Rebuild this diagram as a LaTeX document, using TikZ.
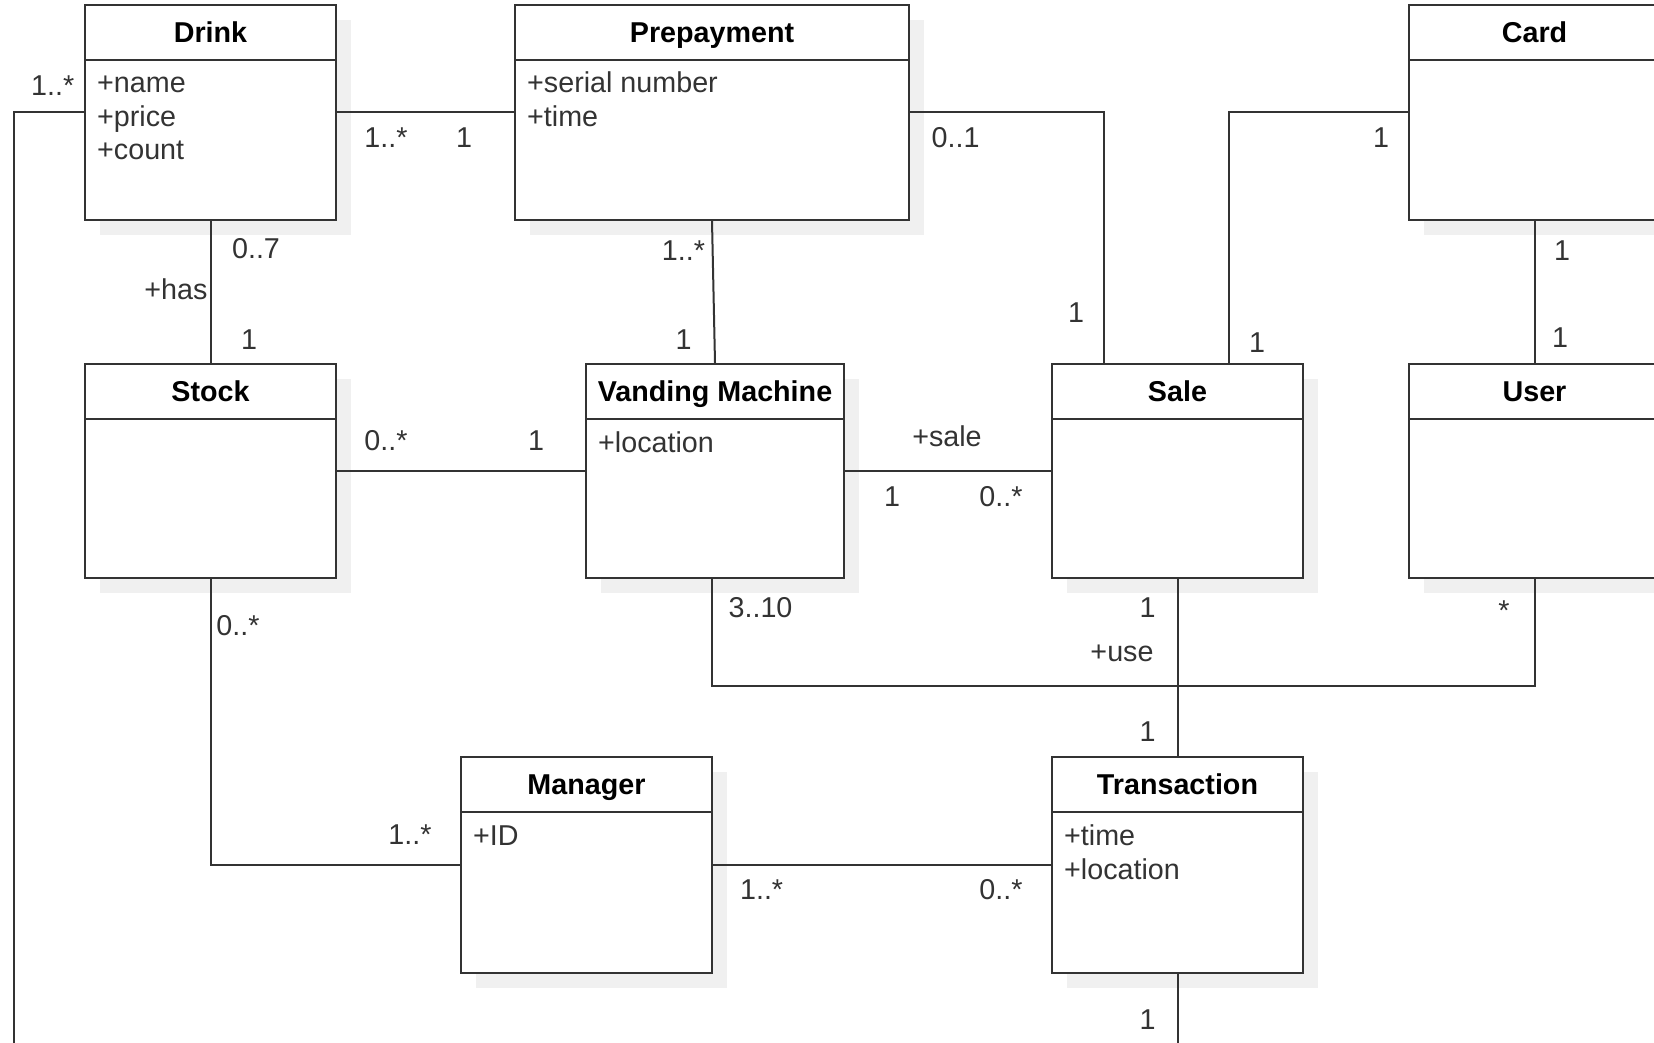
\documentclass[tikz,border=0pt]{standalone}
\usepackage{fontspec}
\setmainfont{Liberation Sans}
\usetikzlibrary{calc}
\definecolor{ink}{HTML}{333333}
\definecolor{shadowgray}{HTML}{F0F0F0}
\tikzset{
  umlline/.style={draw=ink, line width=2pt},
  classbox/.style={rectangle, draw=ink, line width=2pt, fill=white, inner sep=0pt},
  classtitle/.style={font=\fontsize{28.7}{34}\selectfont\bfseries, text=black, inner sep=0pt, text height=20.5pt, text depth=0pt},
  attr/.style={font=\fontsize{28.7}{34}\selectfont, text=ink, anchor=base west, inner sep=0pt},
  mult/.style={font=\fontsize{28.7}{34}\selectfont, text=ink, inner sep=0pt, text height=20.5pt, text depth=0pt},
}
% class box: name, left, top, right, bottom, title
\newcommand\umlclass[6]{%
  \fill[shadowgray] ({#2+15},{#3+15}) rectangle ({#4+15},{#5+15});
  \node[classbox, minimum width={#4-#2}, minimum height={#5-#3}] (#1) at ({(#2+#4)/2},{(#3+#5)/2}) {};
  \node[classtitle] (#1-title) at ($(#1.north)+(0,28)$) {#6};
  \draw[umlline] ($(#1.north west)+(0,56)$) -- ($(#1.north east)+(0,56)$);
}
\begin{document}
\begin{tikzpicture}[x=1pt, y=-1pt]
\useasboundingbox (0,0) rectangle (1654,1043);
\clip (0,0) rectangle (1654,1043);

% classes
\umlclass{drink}{85}{5}{336}{220}{Drink}
\umlclass{prep}{515}{5}{909}{220}{Prepayment}
\umlclass{card}{1409}{5}{1660}{220}{Card}
\umlclass{stock}{85}{364}{336}{578}{Stock}
\umlclass{vm}{586}{364}{844}{578}{Vanding Machine}
\umlclass{sale}{1052}{364}{1303}{578}{Sale}
\umlclass{user}{1409}{364}{1660}{578}{User}
\umlclass{mgr}{461}{757}{712}{973}{Manager}
\umlclass{tr}{1052}{757}{1303}{973}{Transaction}

% attributes
\node[attr] (drink-a1) at ($(drink.north west)+(13,89)$) {+name};
\node[attr] (drink-a2) at ($(drink.north west)+(13,123)$) {+price};
\node[attr] (drink-a3) at ($(drink.north west)+(13,156)$) {+count};
\node[attr] (prep-a1) at ($(prep.north west)+(13,89)$) {+serial number};
\node[attr] (prep-a2) at ($(prep.north west)+(13,123)$) {+time};
\node[attr] (vm-a1) at ($(vm.north west)+(13,89)$) {+location};
\node[attr] (mgr-a1) at ($(mgr.north west)+(13,89)$) {+ID};
\node[attr] (tr-a1) at ($(tr.north west)+(13,89)$) {+time};
\node[attr] (tr-a2) at ($(tr.north west)+(13,123)$) {+location};

% free ends and junctions
\coordinate (dl) at (13.7,1060);
\coordinate (tb) at (1177.5,1060);
\coordinate (bus) at (0,686);
\coordinate (saleA) at ($(sale.north west)+(53,0)$);
\coordinate (saleB) at ($(sale.north west)+(178,0)$);
\coordinate (vmB) at ($(vm.south)+(-3,0)$);

% associations
\draw[umlline] (drink.east) -- (prep.west);
\draw[umlline] (drink.west) -| (dl);
\draw[umlline] (drink.south) -- (stock.north);
\draw[umlline] (prep.south) -- (vm.north);
\draw[umlline] (prep.east) -| (saleA);
\draw[umlline] (card.west) -| (saleB);
\draw[umlline] (card.south) -- (user.north);
\draw[umlline] (stock.east) -- (vm.west);
\draw[umlline] (vm.east) -- (sale.west);
\draw[umlline] (stock.south) |- (mgr.west);
\draw[umlline] (mgr.east) -- (tr.west);
\draw[umlline] (vmB) -- (vmB |- bus) -- (user.south |- bus) -- (user.south);
\draw[umlline] (sale.south) -- (tr.north);
\draw[umlline] (tr.south) -- (tb);

% multiplicities and roles
\node[mult] (m1) at (52.7,85.4) {1..*};
\node[mult] (m2) at (386,137) {1..*};
\node[mult] (m3) at (464,137) {1};
\node[mult] (m4) at (256,248) {0..7};
\node[mult] (r1) at (176,289) {+has};
\node[mult] (m5) at (249,339) {1};
\node[mult] (m6) at (683.5,250) {1..*};
\node[mult] (m7) at (683.5,339) {1};
\node[mult] (m8) at (955.6,137) {0..1};
\node[mult] (m9) at (1076,312) {1};
\node[mult] (m10) at (1381,137) {1};
\node[mult] (m11) at (1257,342) {1};
\node[mult] (m12) at (1562,250) {1};
\node[mult] (m13) at (1560,337.5) {1};
\node[mult] (m14) at (386,440) {0..*};
\node[mult] (m15) at (536,440) {1};
\node[mult] (r2) at (947,436) {+sale};
\node[mult] (m16) at (892,496) {1};
\node[mult] (m17) at (1001,496) {0..*};
\node[mult] (m18) at (238,625.5) {0..*};
\node[mult] (m19) at (410,834) {1..*};
\node[mult] (m20) at (760.5,607.6) {3..10};
\node[mult] (m21) at (1147.6,607.6) {1};
\node[mult] (r3) at (1122,651) {+use};
\node[mult] (m22) at (1504,610) {*};
\node[mult] (m23) at (1147.6,731) {1};
\node[mult] (m24) at (761.6,889) {1..*};
\node[mult] (m25) at (1001,889) {0..*};
\node[mult] (m26) at (1147.6,1019) {1};
\end{tikzpicture}
\end{document}
